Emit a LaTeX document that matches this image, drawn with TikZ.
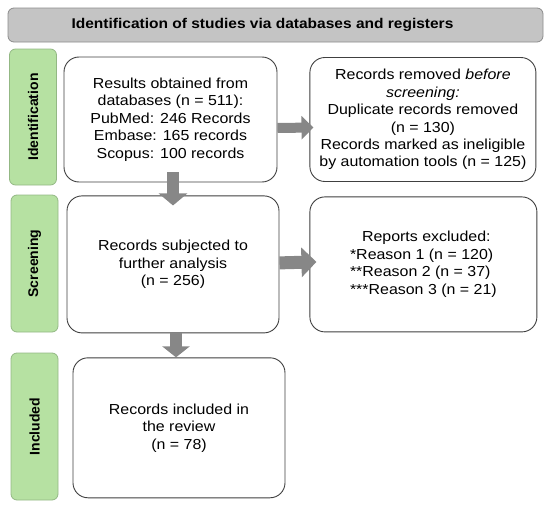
\documentclass[tikz,border=0pt]{standalone}
\usepackage{fontspec}
\setmainfont{Liberation Sans}[FakeStretch=1.1]
\newfontfamily\stagefont{Liberation Sans}
\usetikzlibrary{arrows.meta,positioning}
\definecolor{headgray}{HTML}{C4C4C4}
\definecolor{stagegreen}{HTML}{B6E1A2}
\definecolor{stageedge}{HTML}{93B884}
\definecolor{arrowgray}{HTML}{878787}

\begin{document}
\begin{tikzpicture}[
  x=1pt, y=1pt,
  font=\fontsize{14.5}{17.5}\selectfont,
  headbox/.style={rounded corners=6pt, line width=0.8pt, draw=black!45, fill=headgray,
    minimum width=535pt, minimum height=34pt, inner sep=0pt},
  stagelabel/.style={rounded corners=6pt, line width=0.8pt, draw=stageedge, fill=stagegreen,
    rotate=90, minimum height=47pt, inner sep=0pt, font=\stagefont\bfseries\fontsize{14}{16}\selectfont},
  recbox/.style={rounded corners=15pt, line width=0.9pt, draw=black!75, fill=white,
    align=center, inner sep=0pt},
  bigarrow/.style={-{Triangle[width=29pt,length=15pt]}, line width=13pt, draw=arrowgray}
]
\useasboundingbox (0,0) rectangle (550,-506);

\node[headbox] (head) at (275.5,-25)
  {\hspace{-26pt}\bfseries\fontsize{14.1}{16}\selectfont Identification of studies via databases and registers};

\node[stagelabel, minimum width=136pt] (idlab) at (33,-117) {Identification};
\node[stagelabel, minimum width=137pt] (sclab) at (34.5,-263.5) {Screening};
\node[stagelabel, minimum width=147pt] (inlab) at (34.5,-426.5) {Included};

\node[recbox, minimum width=213pt, minimum height=125pt] (res) at (170.5,-119.5)
  {Results obtained from\\databases (n = 511):\\PubMed: 246 Records\\Embase: 165 records\\Scopus: 100 records};
\node[recbox, minimum width=226pt, minimum height=124pt, right=32pt of res] (rem)
  {Records removed \textit{before}\\\textit{screening:}\\Duplicate records removed\\(n = 130)\\Records marked as ineligible\\by automation tools (n = 125)};
\node[recbox, minimum width=212pt, minimum height=137pt, below=13pt of res, xshift=2.5pt] (rec)
  {Records subjected to\\further analysis\\(n = 256)};
\node[recbox, minimum width=227pt, minimum height=135pt, right=30pt of rec] (exc)
  {\begin{tabular}{@{}l@{}}
   \hspace{12pt}Reports excluded:\\{}*Reason 1 (n = 120)\\{}**Reason 2 (n = 37)\\{}***Reason 3 (n = 21)
   \end{tabular}};
\node[recbox, minimum width=212pt, minimum height=140pt, below=24pt of rec, xshift=6pt] (inc)
  {Records included in\\the review\\(n = 78)};

\draw[bigarrow, line width=12pt, -{Triangle[width=28pt,length=12pt]}]
  ([xshift=2.5pt,yshift=10pt]res.south) -- ([yshift=-10pt]rec.north);
\draw[bigarrow, line width=12pt, -{Triangle[width=27pt,length=11pt]}]
  ([xshift=3pt]rec.south) -- ([xshift=-3pt]inc.north);
\draw[bigarrow, line width=10pt, -{Triangle[width=23pt,length=12pt]}]
  ([yshift=-8.5pt]res.east) -- ([xshift=4pt,yshift=-8pt]rem.west);
\draw[bigarrow] ([yshift=1.5pt]rec.east) -- ([xshift=7pt,yshift=2.5pt]exc.west);
\end{tikzpicture}
\end{document}
